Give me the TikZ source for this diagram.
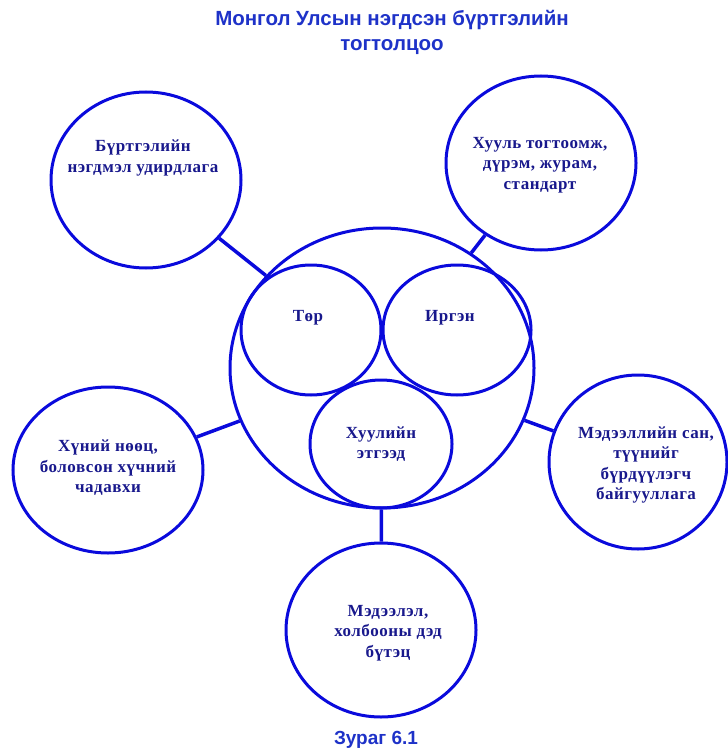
\documentclass[tikz,border=0pt]{standalone}
\usepackage{fontspec}
\setmainfont{Liberation Serif}
\newfontfamily\lblfont[LetterSpace=3]{Liberation Serif}
\newfontfamily\titlefont{Liberation Sans}
\usetikzlibrary{shapes.geometric}
\definecolor{ringblue}{RGB}{10,10,220}
\definecolor{textnavy}{RGB}{24,24,140}
\definecolor{titleblue}{RGB}{30,50,200}
\begin{document}
\begin{tikzpicture}[x=1pt,y=-1pt,
  ring/.style={draw=ringblue, line width=3pt, ellipse, inner sep=0pt},
  link/.style={draw=ringblue, line width=3.5pt},
  lbl/.style={text=textnavy, font=\lblfont\fontsize{17}{20.5}\selectfont\bfseries, align=center, inner sep=0pt},
  ttl/.style={text=titleblue, font=\titlefont\fontsize{20.5}{25}\selectfont\bfseries, align=center, inner sep=0pt},
  captext/.style={text=titleblue, font=\titlefont\fontsize{19}{23}\selectfont\bfseries, inner sep=0pt}]
\useasboundingbox (0,0) rectangle (727,751);
% central circle and its inner circles
\node[ring, minimum width=304pt, minimum height=280pt] (big) at (382,368) {};
\node[ring, minimum width=140pt, minimum height=130pt] (tor) at (311,330) {};
\node[ring, minimum width=148pt, minimum height=130pt] (irgen) at (457,330) {};
\node[ring, minimum width=142pt, minimum height=128pt] (khuuli) at (381,444) {};
% outer circles
\node[ring, minimum width=190pt, minimum height=176pt] (tl) at (146,180) {};
\node[ring, minimum width=190pt, minimum height=174pt] (tr) at (541,163) {};
\node[ring, minimum width=190pt, minimum height=166pt] (lf) at (108,470) {};
\node[ring, minimum width=178pt, minimum height=174pt] (rt) at (638,462) {};
\node[ring, minimum width=190pt, minimum height=174pt] (bt) at (381,630) {};
% connectors
\draw[link] (tl) -- (big);
\draw[link] (tr) -- (big);
\draw[link] (lf) -- (big);
\draw[link] (rt) -- (big);
\draw[link] (bt) -- (big);
% labels
\node[lbl] (ttor) at (308,318) {Төр};
\node[lbl] (tirgen) at (450,318) {Иргэн};
\node[lbl] (tkhuuli) at (381,444) {Хуулийн\\этгээд};
\node[lbl] (ttl) at (143,158) {Бүртгэлийн\\нэгдмэл удирдлага};
\node[lbl] (ttr) at (540,165) {Хууль тогтоомж,\\дүрэм, журам,\\стандарт};
\node[lbl] (tlf) at (108,468) {Хүний нөөц,\\боловсон хүчний\\чадавхи};
\node[lbl] (trt) at (646,465) {Мэдээллийн сан,\\түүнийг\\бүрдүүлэгч\\байгууллага};
\node[lbl] (tbt) at (388,633) {Мэдээлэл,\\холбооны дэд\\бүтэц};
% titles
\node[ttl] (title) at (392,32) {Монгол Улсын нэгдсэн бүртгэлийн\\тогтолцоо};
\node[captext] (caption) at (376,740) {Зураг 6.1};
\end{tikzpicture}
\end{document}
